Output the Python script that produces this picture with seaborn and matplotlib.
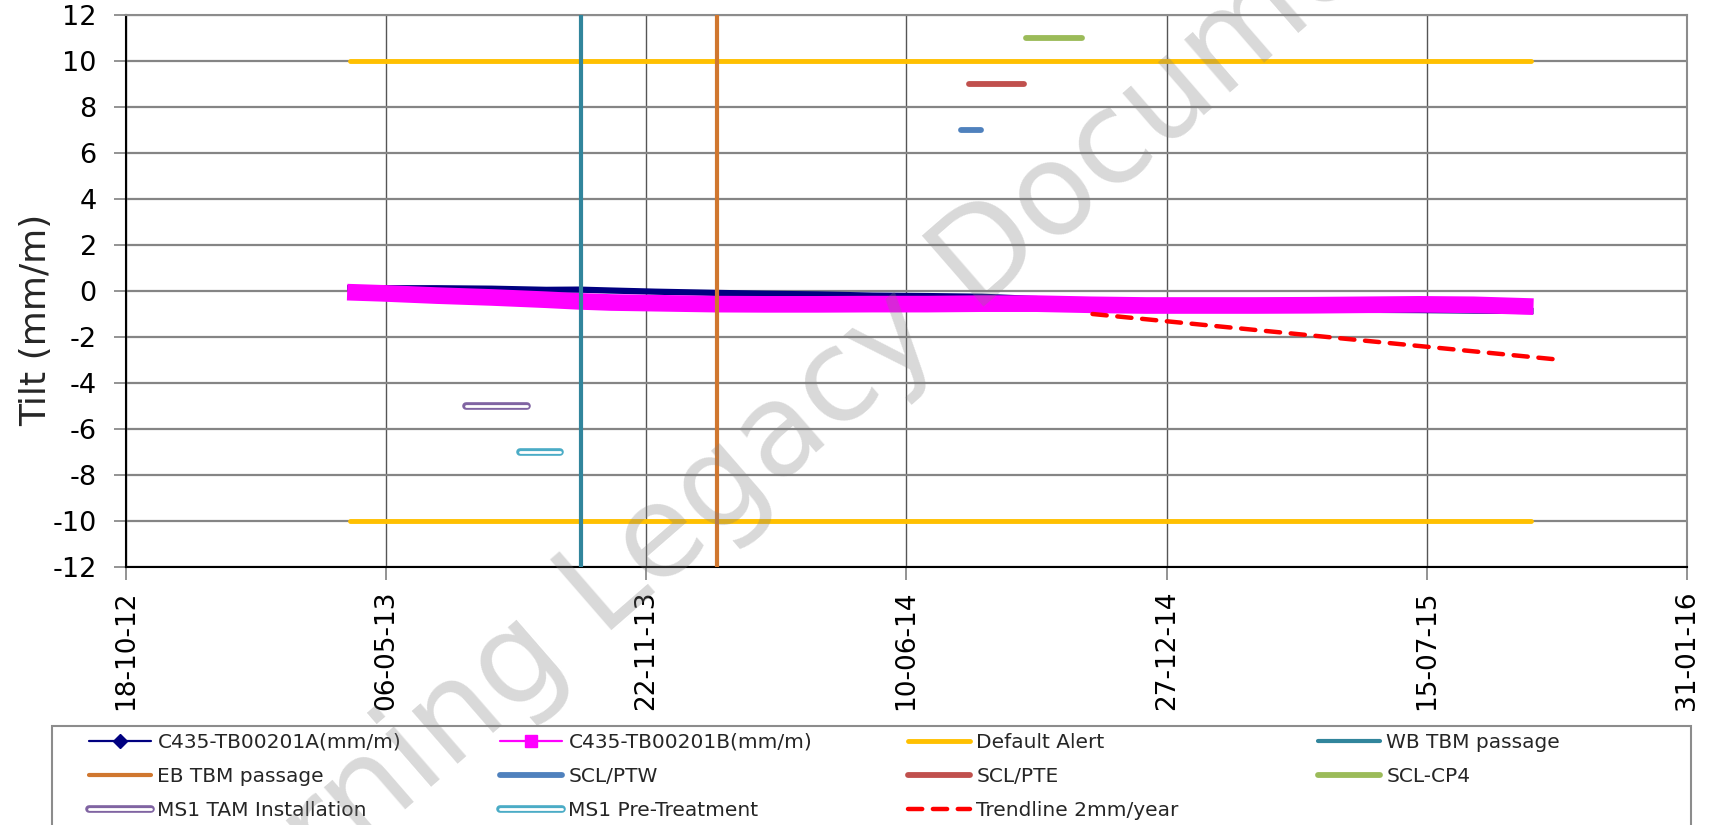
import matplotlib
matplotlib.use("Agg")
import matplotlib.pyplot as plt
import matplotlib.dates as mdates
import matplotlib.patheffects as pe
from matplotlib.lines import Line2D
from matplotlib.patches import Rectangle
import numpy as np
import pandas as pd
import seaborn as sns

sns.set_theme(style="white")
plt.rcParams["font.family"] = ["DejaVu Sans"]
plt.rcParams["axes.unicode_minus"] = False

# ---------------- data ----------------
reading_dates = ["2013-04-06", "2013-05-03", "2013-06-14", "2013-07-26", "2013-09-06",
                 "2013-10-01", "2013-10-26", "2013-11-29", "2014-01-13", "2014-02-21",
                 "2014-04-03", "2014-05-15", "2014-06-26", "2014-08-07", "2014-09-18",
                 "2014-10-30", "2014-12-11", "2015-01-22", "2015-03-05", "2015-04-16",
                 "2015-05-28", "2015-07-09", "2015-08-20", "2015-10-05"]
tilt_a = [0.12, 0.12, 0.12, 0.10, 0.05, 0.06, 0.02, -0.03, -0.08, -0.12,
          -0.15, -0.20, -0.22, -0.25, -0.35, -0.50, -0.60, -0.70, -0.75, -0.80,
          -0.82, -0.83, -0.85, -0.87]
tilt_b = [-0.05, -0.10, -0.20, -0.28, -0.38, -0.45, -0.50, -0.53, -0.57, -0.58,
          -0.58, -0.57, -0.57, -0.55, -0.55, -0.60, -0.63, -0.63, -0.63, -0.62,
          -0.60, -0.58, -0.60, -0.68]

alert_dates = ["2013-04-08", "2015-10-03"]
alert_levels = [10, -10]

wb_tbm_date = "2013-10-03"
eb_tbm_date = "2014-01-15"

event_names = ["SCL/PTW", "SCL/PTE", "SCL-CP4", "MS1 TAM Installation", "MS1 Pre-Treatment"]
event_starts = ["2014-07-22", "2014-07-28", "2014-09-10", "2013-07-06", "2013-08-17"]
event_ends = ["2014-08-06", "2014-09-08", "2014-10-23", "2013-08-22", "2013-09-17"]
event_levels = [7, 9, 11, -5, -7]

trend_dates = ["2014-10-31", "2015-10-27"]
trend_values = [-1.0, -3.0]

y_ticks = list(range(-12, 13, 2))
x_tick_dates = ["2012-10-18", "2013-05-06", "2013-11-22", "2014-06-10",
                "2014-12-27", "2015-07-15", "2016-01-31"]

# ---------------- styles ----------------
c_a = "#000080"
c_b = "#FF00FF"
c_alert = "#FFC000"
c_wb = "#31859C"
c_eb = "#D0772F"
event_colors = ["#4F81BD", "#C0504D", "#9BBB59", "#8064A2", "#4BACC6"]

W, H = 1713, 825
fig = plt.figure(figsize=(W / 100, H / 100), dpi=100)
ax = fig.add_axes([126 / W, 1 - 567 / H, (1687 - 126) / W, (567 - 15) / H])

df = pd.DataFrame({"date": pd.to_datetime(reading_dates), "A": tilt_a, "B": tilt_b})

sns.lineplot(data=df, x="date", y="A", ax=ax, color=c_a, lw=4.5, estimator=None,
             zorder=3, legend=False)
sns.lineplot(data=df, x="date", y="B", ax=ax, color=c_b, lw=12, estimator=None,
             zorder=4, legend=False)
for ln in ax.lines:
    ln.set_solid_capstyle("butt")

alert_lines = []
for lv in alert_levels:
    ln, = ax.plot(pd.to_datetime(alert_dates), [lv, lv], color=c_alert, lw=3.5,
                  solid_capstyle="round", zorder=5)
    alert_lines.append(ln)

wb_line, = ax.plot(pd.to_datetime([wb_tbm_date, wb_tbm_date]), [-12, 12], color=c_wb,
                   lw=3, zorder=6, solid_capstyle="round")
eb_line, = ax.plot(pd.to_datetime([eb_tbm_date, eb_tbm_date]), [-12, 12], color=c_eb,
                   lw=3, zorder=6, solid_capstyle="round")

event_lines = []
for i, (s, e, lv, col) in enumerate(zip(event_starts, event_ends, event_levels, event_colors)):
    if i >= 3:
        ln, = ax.plot(pd.to_datetime([s, e]), [lv, lv], color=col, lw=5.5,
                      solid_capstyle="round", zorder=6,
                      path_effects=[pe.Normal(),
                                    pe.Stroke(linewidth=2.0, foreground="white")])
    else:
        ln, = ax.plot(pd.to_datetime([s, e]), [lv, lv], color=col, lw=4.2,
                      solid_capstyle="round", zorder=6)
    event_lines.append(ln)

trend_line, = ax.plot(pd.to_datetime(trend_dates), trend_values, color="#FF0000", lw=3.2,
                      dashes=(3.2, 2.4), dash_capstyle="round", zorder=7)

# ---------------- axes ----------------
ax.set_xlim(pd.Timestamp(x_tick_dates[0]), pd.Timestamp(x_tick_dates[-1]))
ax.set_ylim(-12, 12)
ax.set_yticks(y_ticks)
ax.set_xticks(pd.to_datetime(x_tick_dates))
ax.xaxis.set_major_formatter(mdates.DateFormatter("%d-%m-%y"))
ax.set_xlabel("")
ax.set_ylabel("")
ax.tick_params(axis="y", left=True, direction="out", length=9, width=1.2,
               color="#808080", labelsize=19.5, pad=12, labelcolor="black")
ax.tick_params(axis="x", bottom=True, direction="out", length=9, width=1.2,
               color="#808080", labelsize=19, pad=8, labelrotation=90, labelcolor="black")
ax.grid(True, axis="y", color="#858585", lw=1.6)
ax.grid(True, axis="x", color="#555555", lw=1.0)
ax.set_axisbelow(True)
for side in ["left", "bottom"]:
    ax.spines[side].set_color("black")
    ax.spines[side].set_linewidth(1.5)
for side in ["top", "right"]:
    ax.spines[side].set_color("#8c8c8c")
    ax.spines[side].set_linewidth(1.5)

fig.text(36 / W, 1 - 320 / H, "Tilt (mm/m)", rotation=90, ha="center", va="center",
         fontsize=26)

# ---------------- legend ----------------
proxy_a = Line2D([], [], color=c_a, lw=1.6, marker="D", markersize=7)
proxy_b = Line2D([], [], color=c_b, lw=1.6, marker="s", markersize=8)

columns = [
    ([proxy_a, eb_line, event_lines[3]],
     ["C435-TB00201A(mm/m)", "EB TBM passage", "MS1 TAM Installation"]),
    ([proxy_b, event_lines[0], event_lines[4]],
     ["C435-TB00201B(mm/m)", "SCL/PTW", "MS1 Pre-Treatment"]),
    ([alert_lines[0], event_lines[1], trend_line],
     ["Default Alert", "SCL/PTE", "Trendline 2mm/year"]),
    ([wb_line, event_lines[2]],
     ["WB TBM passage", "SCL-CP4"]),
]
col_x = [89, 500, 908, 1318]
for (hs, ls), x0 in zip(columns, col_x):
    fig.legend(hs, ls, loc="upper left", bbox_to_anchor=(x0 / W, 1 - 733 / H),
               bbox_transform=fig.transFigure, frameon=False, borderpad=0,
               borderaxespad=0, handlelength=3.1, handletextpad=0.3,
               labelspacing=0.74, fontsize=14.5)

fig.add_artist(Rectangle((52 / W, -0.05), (1691 - 52) / W, 0.05 + (825 - 726) / H,
                         transform=fig.transFigure, fill=False, ec="#8c8c8c", lw=1.5))

# watermark
fig.text(790 / W, 1 - 428 / H, "Learning Legacy Document", fontsize=92, rotation=41,
         color="#808080", alpha=0.3, ha="center", va="center", rotation_mode="anchor",
         zorder=10)

fig.savefig("out.png", dpi=100)
